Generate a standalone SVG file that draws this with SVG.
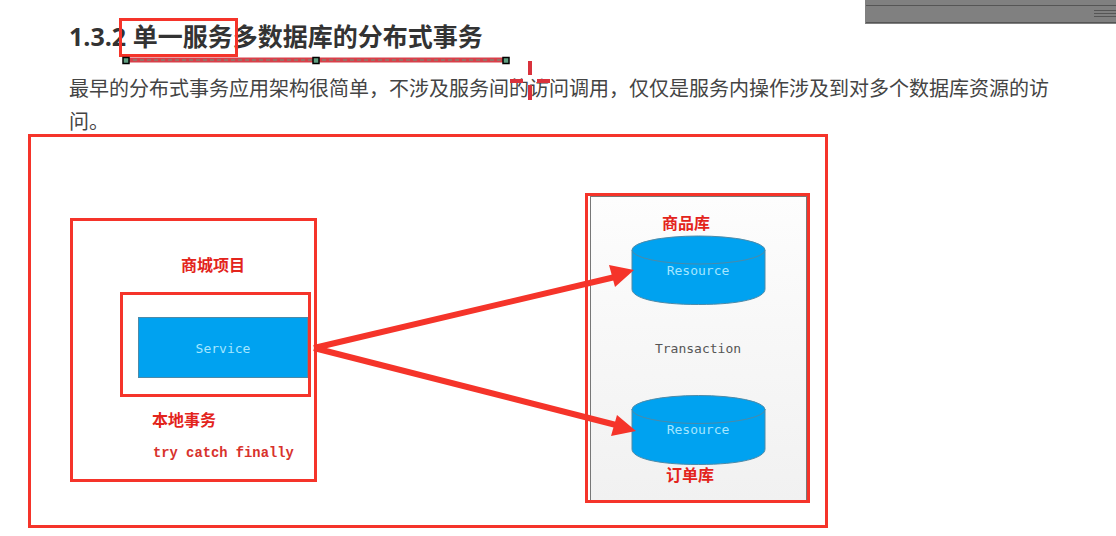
<svg xmlns="http://www.w3.org/2000/svg" width="1116" height="536" viewBox="0 0 1116 536">
<style>
.h{font:bold 25px "Open Sans","Noto Sans CJK SC",sans-serif;fill:#333}
.b{font:20px "Open Sans","Noto Sans CJK SC",sans-serif;fill:#444}
.r{fill:none;stroke:#f5342a;stroke-width:3}
.lab{font:bold 16px "Noto Sans CJK SC",sans-serif;fill:#e3241c}
.m{font:13px "DejaVu Sans Mono","Liberation Mono",monospace;fill:#a5e6ff;text-anchor:middle}
.blue{fill:#00a2f0;stroke:#4d8aa8;stroke-width:1}
.arrow{stroke:#f5342a;stroke-width:6;fill:none}
.head{fill:#f5342a}
.hd{fill:#5f9f80;stroke:#000;stroke-width:1.500}
</style>
<defs>
<linearGradient id="panel" x1="0" y1="0" x2="0" y2="1"><stop offset="0" stop-color="#fdfdfd"/><stop offset="1" stop-color="#f1f1f1"/></linearGradient>
</defs>
<rect width="1116" height="536" fill="#fff"/>
<g id="toolbar">
<rect x="865" y="0" width="251" height="24" fill="#808080"/>
<path d="M866 5.500H1116M866 22.500H1116M1094 10.500H1116M1094 13.500H1116M1094 16.500H1116" stroke="#555" stroke-width="1" fill="none"/>
</g>
<g id="title">
<text class="h" x="69" y="46">1.3.2 单一服务多数据库的分布式事务</text>
<rect class="r" x="120.500" y="19.500" width="116" height="36"/>
</g>
<g id="selection">
<path d="M126 60H506" stroke="#d8404a" stroke-width="5"/>
<path d="M126 60H506" stroke="#5f9f80" stroke-width="1" stroke-dasharray="4 3"/>
<rect class="hd" x="123" y="57.500" width="6" height="6"/>
<rect class="hd" x="313" y="57.500" width="6" height="6"/>
<rect class="hd" x="503" y="57.500" width="6" height="6"/>
</g>
<g id="paragraph">
<text class="b" x="69" y="96">最早的分布式事务应用架构很简单，不涉及服务间的访问调用，仅仅是服务内操作涉及到对多个数据库资源的访</text>
<text class="b" x="69" y="129">问。</text>
</g>
<g id="crosshair">
<path d="M530 61V75M530 85V100M510 81H523M537 81H550" stroke="#d9323c" stroke-width="4" fill="none"/>
</g>
<g id="outer-frame"><rect class="r" x="29.500" y="135.500" width="797" height="391"/></g>
<g id="project">
<rect class="r" x="71.500" y="219.500" width="244" height="261"/>
<text class="lab" x="181" y="271">商城项目</text>
<text class="lab" x="152" y="426">本地事务</text>
<text x="153" y="457" style="font:bold 13.800px 'Liberation Mono',monospace;fill:#d8322c">try catch finally</text>
</g>
<g id="service">
<rect class="blue" x="138.500" y="317.500" width="169" height="60"/>
<text class="m" x="223" y="353">Service</text>
<rect class="r" x="121.500" y="293.500" width="188" height="102"/>
</g>
<g id="transaction">
<rect x="590.500" y="196.500" width="216" height="304" fill="url(#panel)" stroke="#777"/>
<text x="698" y="353" style="font:13px 'DejaVu Sans Mono','Liberation Mono',monospace;fill:#555;text-anchor:middle">Transaction</text>
<rect class="r" x="586.500" y="194.500" width="222" height="307"/>
</g>
<g id="resource-1">
<path class="blue" d="M632 250V289C632 298 656 304.500 698.500 304.500S765 298 765 289V250Z"/>
<ellipse class="blue" cx="698.500" cy="250" rx="66.500" ry="14"/>
<text class="m" x="698" y="275">Resource</text>
<text class="lab" x="662" y="229">商品库</text>
</g>
<g id="resource-2">
<path class="blue" d="M632 409V449C632 458 656 464.500 698.500 464.500S765 458 765 449V409Z"/>
<ellipse class="blue" cx="698.500" cy="409.500" rx="66.500" ry="14"/>
<text class="m" x="698" y="434">Resource</text>
<text class="lab" x="666" y="481">订单库</text>
</g>
<g id="connectors">
<path class="arrow" d="M314 348L615 277"/>
<path class="head" d="M634 270L609 265L615 287Z"/>
<path class="arrow" d="M314 348L620 426"/>
<path class="head" d="M636 431L617 415L611 436Z"/>
</g>
</svg>
